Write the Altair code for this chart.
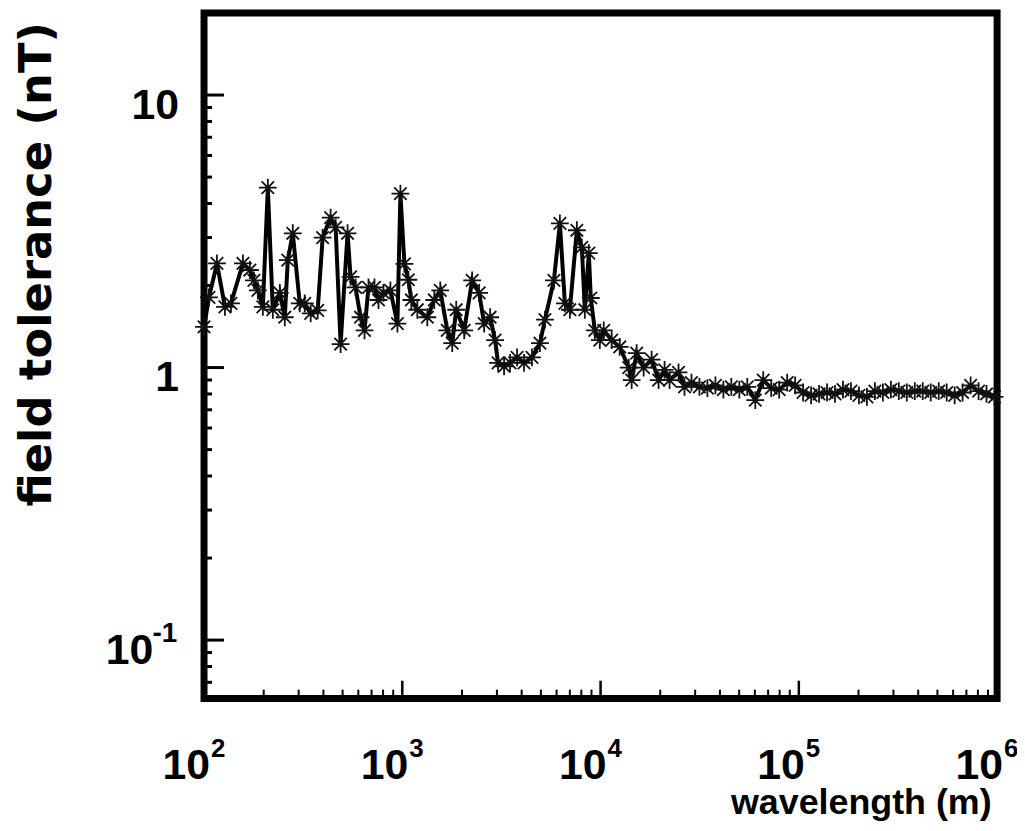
import altair as alt
import pandas as pd

# ---- data ----
wavelength = [100, 105.9, 116.2, 127.5, 136.7, 157.1, 170.3, 178.4, 186.8, 198.0,
              209.8, 222.3, 241.1, 255.5, 264.5, 280.3, 303.9, 322.0, 345.1, 374.3,
              396.5, 435.0, 461.0, 488.5, 529.7, 548.4, 581.1, 615.7, 644.9, 675.4,
              724.0, 758.5, 803.5, 871.2, 944.9, 978.4, 1025, 1073, 1111, 1191,
              1337, 1450, 1554, 1686, 1786, 1871, 2052, 2251, 2442, 2587,
              2773, 2938, 3042, 3261, 3496, 3791, 4111, 4510, 4947, 5243,
              5817, 6236, 6607, 7000, 7592, 8045, 8330, 8725, 8928, 9352,
              9909, 10380, 11380, 12490, 13870, 14350, 15210, 16490, 18090, 19620,
              21030, 22280, 24730, 26500, 28740, 31530, 34580, 37950, 41630, 45650,
              50100, 54950, 60300, 66150, 72560, 79600, 87340, 95800, 105100, 115300,
              126500, 138800, 152200, 167000, 183200, 201000, 220500, 241900, 265400, 291200,
              319400, 350400, 384400, 421700, 462700, 507600, 556800, 610900, 669900, 735200,
              806500, 884500, 970300]
tolerance = [1.41, 1.81, 2.41, 1.67, 1.72, 2.41, 2.28, 2.09, 1.92, 1.67,
             4.57, 1.63, 1.88, 1.53, 2.48, 3.11, 1.72, 1.72, 1.58, 1.62,
             3.00, 3.55, 3.27, 1.22, 3.11, 2.15, 1.97, 1.53, 1.37, 1.97,
             1.97, 1.77, 1.88, 1.92, 1.45, 4.35, 2.40, 2.10, 1.77, 1.63,
             1.53, 1.77, 1.92, 1.37, 1.23, 1.63, 1.37, 2.09, 1.88, 1.45,
             1.53, 1.26, 1.04, 1.01, 1.04, 1.09, 1.04, 1.09, 1.23, 1.50,
             2.09, 3.38, 1.72, 1.63, 3.19, 2.76, 1.63, 2.63, 1.80, 1.37,
             1.26, 1.37, 1.26, 1.19, 1.00, 0.90, 1.13, 1.00, 1.07, 0.90,
             0.98, 0.90, 0.96, 0.85, 0.88, 0.85, 0.84, 0.86, 0.83, 0.85,
             0.83, 0.85, 0.76, 0.90, 0.84, 0.83, 0.88, 0.86, 0.81, 0.79,
             0.80, 0.81, 0.80, 0.83, 0.82, 0.79, 0.78, 0.82, 0.81, 0.83,
             0.82, 0.81, 0.82, 0.82, 0.81, 0.82, 0.81, 0.79, 0.81, 0.86,
             0.82, 0.80, 0.78]

x_major = [1e2, 1e3, 1e4, 1e5, 1e6]
x_minor = [m * d for d in [1e2, 1e3, 1e4, 1e5] for m in range(2, 10)]
x_label_exp = ["2", "3", "4", "5", "6"]

y_major = [0.1, 1, 10]
y_minor = [0.07, 0.08, 0.09] + [m * d for d in [0.1, 1] for m in range(2, 10)]
y_label_base = ["10", "1", "10"]
y_label_exp = ["-1", "", ""]

# ---- layout ----
W, H = 797, 689
FONT = "Liberation Sans, Arial, Helvetica, sans-serif"
LAB = 43

xscale = alt.Scale(type="log", domain=[100, 1e6], nice=False)
yscale = alt.Scale(type="log", domain=[0.061, 20], nice=False)

df = pd.DataFrame({"wavelength": wavelength, "tolerance": tolerance})

asterisk = "M-1,0L1,0M0,-1L0,1M-0.7,-0.7L0.7,0.7M-0.7,0.7L0.7,-0.7"

xenc = alt.X("wavelength:Q", scale=xscale,
             axis=alt.Axis(title="wavelength (m)", domain=False, ticks=False, labels=False, grid=False,
                           titleFont=FONT, titleFontSize=36, titleFontWeight="bold", titleColor="black",
                           titleAlign="right", titleAnchor="end", titleX=791, titleY=115,
                           titleBaseline="alphabetic"))
yenc = alt.Y("tolerance:Q", scale=yscale,
             axis=alt.Axis(title="field tolerance (nT)", domain=False, ticks=False, labels=False, grid=False,
                           titleFont="DejaVu Sans", titleFontSize=45, titleFontWeight="bold",
                           titleColor="black", titleAngle=270, titleAlign="center",
                           titleX=-154, titleY=252, titleBaseline="alphabetic"))

line = alt.Chart(df).mark_line(color="black", strokeWidth=4).encode(x=xenc, y=yenc)
pts = alt.Chart(df).mark_point(shape=asterisk, size=320, filled=False, stroke="#111111",
                               strokeWidth=1.8, opacity=1).encode(x="wavelength:Q", y="tolerance:Q")

# ticks (drawn inward)
ymaj = pd.DataFrame({"v": y_major})
ymin = pd.DataFrame({"v": y_minor})
xmaj = pd.DataFrame({"v": x_major})
xmin = pd.DataFrame({"v": x_minor})

ytick_major = alt.Chart(ymaj).mark_rule(color="black", strokeWidth=3).encode(
    y=alt.Y("v:Q", scale=yscale), x=alt.value(0), x2=alt.value(20))
ytick_minor = alt.Chart(ymin).mark_rule(color="black", strokeWidth=3).encode(
    y=alt.Y("v:Q", scale=yscale), x=alt.value(0), x2=alt.value(8))
xtick_major = alt.Chart(xmaj).mark_rule(color="black", strokeWidth=2.5).encode(
    x=alt.X("v:Q", scale=xscale), y=alt.value(H), y2=alt.value(H - 18))
xtick_minor = alt.Chart(xmin).mark_rule(color="black", strokeWidth=2).encode(
    x=alt.X("v:Q", scale=xscale), y=alt.value(H), y2=alt.value(H - 9))

# tick labels
xl = pd.DataFrame({"v": x_major, "base": ["10"] * len(x_major), "exp": x_label_exp})
xlab_base = alt.Chart(xl).mark_text(font=FONT, fontSize=LAB, fontWeight="bold", color="black",
                                    align="right", baseline="alphabetic", dx=6).encode(
    x=alt.X("v:Q", scale=xscale), y=alt.value(H + 81), text="base:N")
xlab_exp = alt.Chart(xl).mark_text(font=FONT, fontSize=26, fontWeight="bold", color="black",
                                   align="left", baseline="alphabetic", dx=7).encode(
    x=alt.X("v:Q", scale=xscale), y=alt.value(H + 59), text="exp:N")

yl = pd.DataFrame({"v": y_major, "base": y_label_base, "exp": y_label_exp})
yl_plain = yl[yl["exp"] == ""]
yl_pow = yl[yl["exp"] != ""]
ylab_plain = alt.Chart(yl_plain).mark_text(font=FONT, fontSize=LAB, fontWeight="bold", color="black",
                                           align="right", baseline="alphabetic", dy=24).encode(
    y=alt.Y("v:Q", scale=yscale), x=alt.value(-25), text="base:N")
ylab_pow_base = alt.Chart(yl_pow).mark_text(font=FONT, fontSize=LAB, fontWeight="bold", color="black",
                                            align="right", baseline="alphabetic", dy=24).encode(
    y=alt.Y("v:Q", scale=yscale), x=alt.value(-51), text="base:N")
ylab_pow_exp = alt.Chart(yl_pow).mark_text(font=FONT, fontSize=28, fontWeight="bold", color="black",
                                           align="right", baseline="alphabetic", dy=2).encode(
    y=alt.Y("v:Q", scale=yscale), x=alt.value(-27), text="exp:N")

chart = alt.layer(
    line, pts, ytick_major, ytick_minor, xtick_major, xtick_minor,
    xlab_base, xlab_exp, ylab_plain, ylab_pow_base, ylab_pow_exp
).properties(
    width=W, height=H,
    autosize=alt.AutoSizeParams(type="none"),
    padding={"left": 197, "top": 3, "right": 20, "bottom": 123},
    background="white",
).configure_view(stroke="black", strokeWidth=7)

chart.save("out.html", embed_options={"renderer": "svg", "actions": False})
